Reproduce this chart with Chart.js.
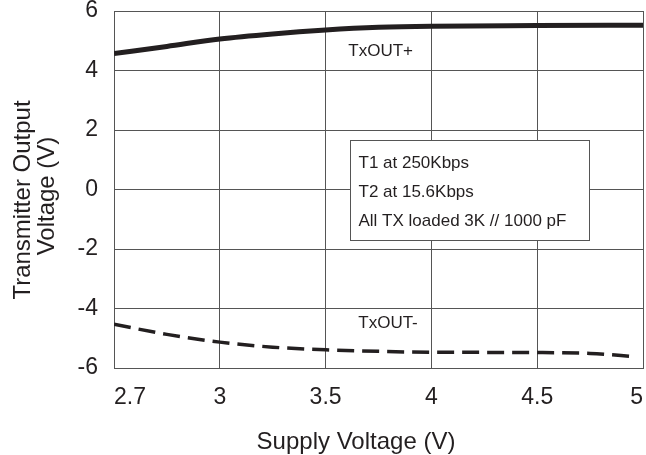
<!DOCTYPE html>
<html><head><meta charset="utf-8">
<script src="https://cdn.jsdelivr.net/npm/chart.js@4.4.1/dist/chart.umd.min.js"></script>
<style>html,body{margin:0;padding:0;background:#fff}#wrap{width:646px;height:455px;position:relative}</style>
</head><body><div id="wrap"><canvas id="c" width="646" height="455"></canvas></div>
<script>
// ---- data ----
const xTickLabels = ['2.7', '3', '3.5', '4', '4.5', '5'];
const xTickVolts = [2.7, 3, 3.5, 4, 4.5, 5];
const yTickValues = [-6, -4, -2, 0, 2, 4, 6];
const supplyPlus = [2.7, 2.85, 3.0, 3.25, 3.5, 3.75, 4.0, 4.5, 5.0];
const txOutPlus = [4.57, 4.81, 5.06, 5.23, 5.36, 5.45, 5.49, 5.51, 5.52];
const supplyMinus = [2.7, 2.85, 3.0, 3.25, 3.5, 3.75, 4.0, 4.5, 4.75, 4.97];
const txOutMinus = [-4.53, -4.87, -5.13, -5.30, -5.39, -5.44, -5.47, -5.48, -5.51, -5.62];
const seriesNames = ['TxOUT+', 'TxOUT-'];
const noteLines = ['T1 at 250Kbps', 'T2 at 15.6Kbps', 'All TX loaded 3K // 1000 pF'];
const xTitle = 'Supply Voltage (V)';
const yTitle = ['Transmitter Output', 'Voltage (V)'];

// the x axis of the original spaces its tick labels evenly: map volts to tick-index position
function toAxis(v) {
  for (let i = 0; i < xTickVolts.length - 1; i++) {
    const a = xTickVolts[i], b = xTickVolts[i + 1];
    if (v <= b || i === xTickVolts.length - 2) return i + (v - a) / (b - a);
  }
}
const INK = '#231f20';
const GRID = '#555555';
const FONT = "'Liberation Sans', Arial, Helvetica, sans-serif";

const annot = {
  id: 'annot',
  afterDatasetsDraw(chart) {
    const {ctx, scales: {x, y}} = chart;
    ctx.save();
    ctx.fillStyle = INK;
    ctx.font = '17px ' + FONT;
    ctx.textAlign = 'center';
    ctx.textBaseline = 'middle';
    ctx.fillText(seriesNames[0], x.getPixelForValue(toAxis(3.76)), y.getPixelForValue(4.66));
    ctx.fillText(seriesNames[1], x.getPixelForValue(toAxis(3.795)), y.getPixelForValue(-4.49));
    // note box
    const bl = Math.round(x.getPixelForValue(toAxis(3.615))) + 0.5;
    const br = Math.round(x.getPixelForValue(toAxis(4.745))) + 0.5;
    const bt = Math.round(y.getPixelForValue(1.66)) + 0.5;
    const bb = Math.round(y.getPixelForValue(-1.70)) + 0.5;
    ctx.fillStyle = '#fff';
    ctx.fillRect(bl, bt, br - bl, bb - bt);
    ctx.strokeStyle = GRID;
    ctx.lineWidth = 1;
    ctx.strokeRect(bl, bt, br - bl, bb - bt);
    ctx.fillStyle = INK;
    ctx.textAlign = 'left';
    noteLines.forEach((t, i) => ctx.fillText(t, bl + 8, bt + 23 + i * 29));
    // axis titles
    ctx.font = '24px ' + FONT;
    ctx.textAlign = 'center';
    ctx.textBaseline = 'alphabetic';
    ctx.fillText(xTitle, 356, 449);
    ctx.textBaseline = 'middle';
    const yc = [200, 196], xc = [23, 47];
    yTitle.forEach((t, i) => {
      ctx.save();
      ctx.translate(xc[i], yc[i]);
      ctx.rotate(-Math.PI / 2);
      ctx.fillText(t, 0, 0);
      ctx.restore();
    });
    ctx.restore();
  }
};

function noPad(s) { s.paddingLeft = 0; s.paddingRight = 0; s.paddingTop = 0; s.paddingBottom = 0; }

new Chart(document.getElementById('c'), {
  type: 'line',
  data: {
    datasets: [
      {
        label: seriesNames[0],
        data: supplyPlus.map((v, i) => ({x: toAxis(v), y: txOutPlus[i]})),
        borderColor: INK, borderWidth: 5, pointRadius: 0,
        cubicInterpolationMode: 'monotone', fill: false
      },
      {
        label: seriesNames[1],
        data: supplyMinus.map((v, i) => ({x: toAxis(v), y: txOutMinus[i]})),
        borderColor: INK, borderWidth: 3.5, borderDash: [17, 8], pointRadius: 0,
        cubicInterpolationMode: 'monotone', fill: false
      }
    ]
  },
  options: {
    responsive: false,
    animation: false,
    devicePixelRatio: 1,
    layout: {padding: {top: 11, right: 3, left: 0, bottom: 0}},
    plugins: {legend: {display: false}, tooltip: {enabled: false}},
    scales: {
      x: {
        type: 'linear', min: 0, max: xTickLabels.length - 1,
        afterBuildTicks(s) { s.ticks = xTickLabels.map((_, i) => ({value: i})); },
        afterFit(s) { s.height = 87; noPad(s); },
        ticks: {
          callback: (v) => xTickLabels[v], align: 'inner',
          color: INK, font: {family: FONT, size: 23}, padding: 16, maxRotation: 0, autoSkip: false
        },
        grid: {color: GRID, lineWidth: 1, drawTicks: false},
        border: {color: GRID, width: 1}
      },
      y: {
        min: -6, max: 6,
        afterBuildTicks(s) { s.ticks = yTickValues.map(v => ({value: v})); },
        afterFit(s) { s.width = 114; noPad(s); },
        ticks: {
          callback: (v) => String(v),
          color: INK, font: {family: FONT, size: 23}, padding: 16
        },
        grid: {color: GRID, lineWidth: 1, drawTicks: false},
        border: {color: GRID, width: 1}
      }
    }
  },
  plugins: [annot]
});
</script>
</body></html>
